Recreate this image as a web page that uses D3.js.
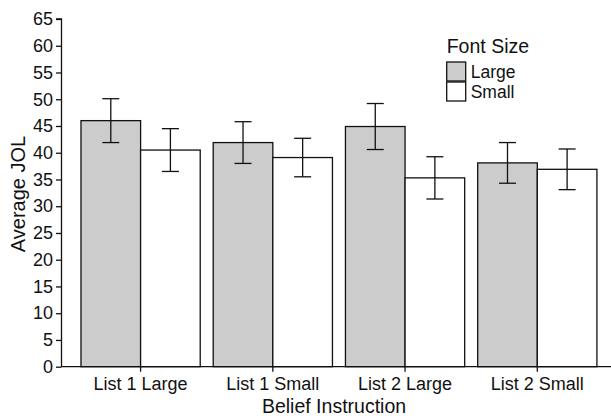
<!DOCTYPE html>
<html><head><meta charset="utf-8">
<script src="https://cdn.jsdelivr.net/npm/d3@7"></script>
<style>body{margin:0;background:#fff}svg{display:block}text{font-family:"Liberation Sans",Arial,sans-serif;fill:#111}</style>
</head><body><svg id="c" width="611" height="416"></svg>
<script>
const categories = ["List 1 Large","List 1 Small","List 2 Large","List 2 Small"];
const seriesNames = ["Large","Small"];
const largeValues = [46.0, 41.9, 44.9, 38.1];
const smallValues = [40.5, 39.1, 35.3, 36.9];
const largeErrors = [4.1, 3.9, 4.3, 3.8];
const smallErrors = [4.0, 3.6, 3.95, 3.8];
const yTicks = [0,5,10,15,20,25,30,35,40,45,50,55,60,65];
const fills = {Large:"#cccccc", Small:"#ffffff"};

const data = categories.map((c,i)=>({cat:c, vals:[
  {s:"Large", v:largeValues[i], e:largeErrors[i]},
  {s:"Small", v:smallValues[i], e:smallErrors[i]}]}));

const svg = d3.select("#c");
const axisX = 61.5, axisRight = 611;
const y = d3.scaleLinear().domain([0,65]).range([366.7,19]);
const x = d3.scaleBand().domain(categories).range([74.5,603.4]).paddingInner(0.0983).paddingOuter(0.049);
const xs = d3.scaleBand().domain(seriesNames).range([0,x.bandwidth()]);

// bars
const g = svg.append("g").selectAll("g").data(data).join("g")
  .attr("transform",d=>`translate(${x(d.cat)},0)`);
g.selectAll("rect").data(d=>d.vals).join("rect")
  .attr("x",d=>xs(d.s)).attr("width",xs.bandwidth())
  .attr("y",d=>y(d.v)).attr("height",d=>y(0)-y(d.v))
  .attr("fill",d=>fills[d.s]).attr("stroke","#111").attr("stroke-width",1.3);
// error bars
const eb = g.selectAll("g.err").data(d=>d.vals).join("g").attr("class","err")
  .attr("stroke","#111").attr("stroke-width",1.3);
eb.append("line").attr("x1",d=>xs(d.s)+xs.bandwidth()/2).attr("x2",d=>xs(d.s)+xs.bandwidth()/2)
  .attr("y1",d=>y(d.v+d.e)).attr("y2",d=>y(d.v-d.e));
eb.append("line").attr("x1",d=>xs(d.s)+xs.bandwidth()/2-8.5).attr("x2",d=>xs(d.s)+xs.bandwidth()/2+8.5)
  .attr("y1",d=>y(d.v+d.e)).attr("y2",d=>y(d.v+d.e));
eb.append("line").attr("x1",d=>xs(d.s)+xs.bandwidth()/2-8.5).attr("x2",d=>xs(d.s)+xs.bandwidth()/2+8.5)
  .attr("y1",d=>y(d.v-d.e)).attr("y2",d=>y(d.v-d.e));

// y axis
const ya = svg.append("g").attr("transform",`translate(${axisX},0)`)
  .call(d3.axisLeft(y).tickValues(yTicks).tickSize(5.5).tickPadding(3));
ya.select(".domain").attr("stroke","#111").attr("stroke-width",1.3).attr("d",`M-5.5,${y(65)}H0V${y(0)}`);
ya.selectAll(".tick line").attr("stroke","#111").attr("stroke-width",1.3);
ya.selectAll(".tick text").style("font-family","Liberation Sans, Arial, sans-serif").style("font-size","18px").attr("fill","#111");

// x axis
const xa = svg.append("g").attr("transform",`translate(0,${y(0)})`)
  .call(d3.axisBottom(x).tickSize(5).tickPadding(6));
xa.select(".domain").attr("stroke","#111").attr("stroke-width",1.3).attr("d",`M${axisX},0H${axisRight}`);
xa.selectAll(".tick line").attr("stroke","#111").attr("stroke-width",1.3);
xa.selectAll(".tick text").style("font-family","Liberation Sans, Arial, sans-serif").style("font-size","18px").attr("fill","#111");

// axis titles
svg.append("text").attr("x",334).attr("y",413).attr("text-anchor","middle")
  .style("font-size","19.5px").text("Belief Instruction");
svg.append("text").attr("transform","translate(25,194) rotate(-90)").attr("text-anchor","middle")
  .style("font-size","20px").text("Average JOL");

// legend
const lg = svg.append("g").attr("transform","translate(446.7,0)");
lg.append("text").attr("x",0).attr("y",53.3).style("font-size","19.5px").text("Font Size");
const li = lg.selectAll("g.li").data(seriesNames).join("g").attr("class","li")
  .attr("transform",(d,i)=>`translate(0,${62+i*20})`);
li.append("rect").attr("width",19).attr("height",19).attr("fill",d=>fills[d])
  .attr("stroke","#111").attr("stroke-width",1.3);
li.append("text").attr("x",24).attr("y",15.5).style("font-size","17.5px").text(d=>d);
</script></body></html>
